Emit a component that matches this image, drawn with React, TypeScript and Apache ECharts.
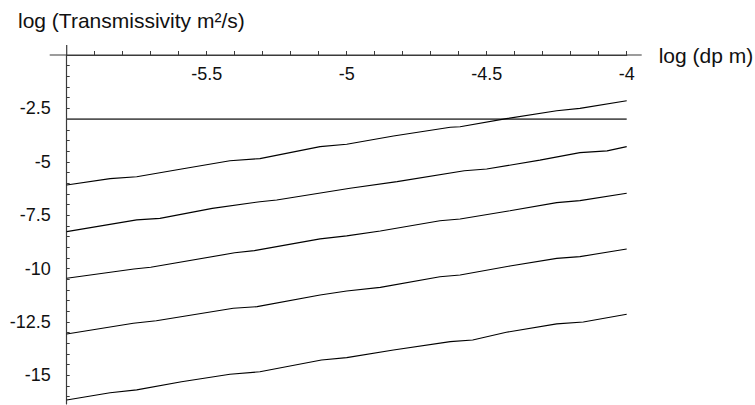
import React, { useEffect, useRef } from "react";
import * as echarts from "echarts";

// log(dp) positions and log(Transmissivity) values
const curve1X = [-6.0, -5.845, -5.75, -5.595, -5.417, -5.31, -5.095, -5.0, -4.833, -4.63, -4.595, -4.43, -4.25, -4.167, -4.0];
const curve1Y = [-6.09, -5.79, -5.7, -5.35, -4.95, -4.85, -4.29, -4.18, -3.79, -3.38, -3.36, -2.98, -2.61, -2.5, -2.14];

const curve2X = [-6.0, -5.75, -5.667, -5.48, -5.31, -5.25, -4.988, -4.82, -4.58, -4.5, -4.31, -4.167, -4.07, -4.0];
const curve2Y = [-8.27, -7.72, -7.65, -7.18, -6.87, -6.79, -6.24, -5.93, -5.42, -5.34, -4.92, -4.57, -4.49, -4.29];

const curve3X = [-6.0, -5.76, -5.7, -5.4, -5.33, -5.095, -5.0, -4.88, -4.667, -4.595, -4.417, -4.25, -4.167, -4.0];
const curve3Y = [-10.45, -10.02, -9.94, -9.26, -9.16, -8.61, -8.47, -8.24, -7.76, -7.68, -7.29, -6.91, -6.82, -6.47];

const curve4X = [-6.0, -5.762, -5.68, -5.405, -5.32, -5.095, -5.0, -4.88, -4.667, -4.595, -4.417, -4.25, -4.167, -4.0];
const curve4Y = [-13.06, -12.56, -12.44, -11.86, -11.78, -11.24, -11.05, -10.88, -10.38, -10.3, -9.88, -9.52, -9.44, -9.08];

const curve5X = [-6.0, -5.845, -5.75, -5.59, -5.417, -5.31, -5.09, -5.0, -4.833, -4.63, -4.55, -4.43, -4.25, -4.155, -4.0];
const curve5Y = [-16.15, -15.81, -15.68, -15.3, -14.95, -14.83, -14.28, -14.17, -13.81, -13.42, -13.34, -12.98, -12.59, -12.5, -12.14];

const thresholdX = [-6.0, -4.0];
const thresholdY = [-3.0, -3.0];

const xLabelValues = [-5.5, -5, -4.5, -4];
const yLabelValues = [-2.5, -5, -7.5, -10, -12.5, -15];

const xTitle = "log (dp m)";
const yTitle = "log (Transmissivity m²/s)";

const FONT = "'Liberation Sans', Arial, Helvetica, sans-serif";

function pairs(xs: number[], ys: number[]) {
  return xs.map((x, i) => [x, ys[i]]);
}

export default function App() {
  const ref = useRef<HTMLDivElement>(null);

  useEffect(() => {
    if (!ref.current) return;
    const chart = echarts.init(ref.current, undefined, { renderer: "svg" });

    const xTicks: number[] = [];
    for (let i = 1; i <= 20; i++) xTicks.push(Math.round((-6 + i * 0.1) * 10) / 10);
    const yTicks: number[] = [];
    for (let i = 1; i <= 32; i++) yTicks.push(-i * 0.5);

    const curves = [
      pairs(curve1X, curve1Y),
      pairs(curve2X, curve2Y),
      pairs(curve3X, curve3Y),
      pairs(curve4X, curve4Y),
      pairs(curve5X, curve5Y),
    ];

    const axisColor = "#3a3a3a";

    chart.setOption({
      animation: false,
      backgroundColor: "#ffffff",
      title: {
        text: yTitle,
        left: 18,
        top: 10,
        padding: 0,
        textStyle: { fontFamily: FONT, fontSize: 21, fontWeight: "normal", color: "#111" },
      },
      grid: { left: 66.7, right: 128.3, top: 55, bottom: 1, containLabel: false, outerBoundsMode: "none" },
      xAxis: {
        type: "value",
        min: -6,
        max: -4,
        position: "top",
        name: xTitle,
        nameLocation: "end",
        nameGap: 32,
        nameTextStyle: { fontFamily: FONT, fontSize: 21, color: "#111", verticalAlign: "middle" },
        axisLine: { show: true, onZero: false, lineStyle: { color: axisColor, width: 1.2 } },
        axisTick: { show: true, inside: false, length: 4, customValues: xTicks, lineStyle: { color: axisColor, width: 1 } },
        axisLabel: {
          show: true,
          inside: true,
          margin: 10,
          customValues: xLabelValues,
          formatter: (v: number) => String(v),
          fontFamily: FONT,
          fontSize: 18,
          color: "#111",
        },
        splitLine: { show: false },
      },
      yAxis: {
        type: "value",
        min: -16.34,
        max: 0,
        axisLine: { show: true, onZero: false, lineStyle: { color: axisColor, width: 1.2 } },
        axisTick: { show: true, inside: true, length: 3, customValues: yTicks, lineStyle: { color: axisColor, width: 1 } },
        axisLabel: {
          show: true,
          margin: 16,
          customValues: yLabelValues,
          formatter: (v: number) => String(v),
          fontFamily: FONT,
          fontSize: 18,
          color: "#111",
        },
        splitLine: { show: false },
      },
      series: [
        {
          type: "line",
          data: pairs(thresholdX, thresholdY),
          symbol: "none",
          lineStyle: { color: "#555", width: 1.6 },
          z: 3,
        },
        ...curves.map((d) => ({
          type: "line",
          data: d,
          symbol: "none",
          smooth: false,
          lineStyle: { color: "#000", width: 1.1 },
          z: 4,
        })),
      ],
    });

    // axis line extensions beyond the plot area (as in the reference)
    const p0 = chart.convertToPixel({ gridIndex: 0 }, [-6, 0]) as number[];
    const p1 = chart.convertToPixel({ gridIndex: 0 }, [-4, 0]) as number[];
    if (p0 && p1) {
      chart.setOption({
        graphic: [
          {
            type: "line",
            shape: { x1: p0[0] - 17, y1: p0[1], x2: p1[0] + 15, y2: p1[1] },
            style: { stroke: axisColor, lineWidth: 1.2 },
            silent: true,
          },
          {
            type: "line",
            shape: { x1: p0[0], y1: p0[1] - 10, x2: p0[0], y2: p0[1] },
            style: { stroke: axisColor, lineWidth: 1.2 },
            silent: true,
          },
        ],
      });
    }

    return () => chart.dispose();
  }, []);

  return (
    <div
      ref={ref}
      style={{ position: "fixed", left: 0, top: 0, width: 755, height: 405, background: "#fff" }}
    />
  );
}
